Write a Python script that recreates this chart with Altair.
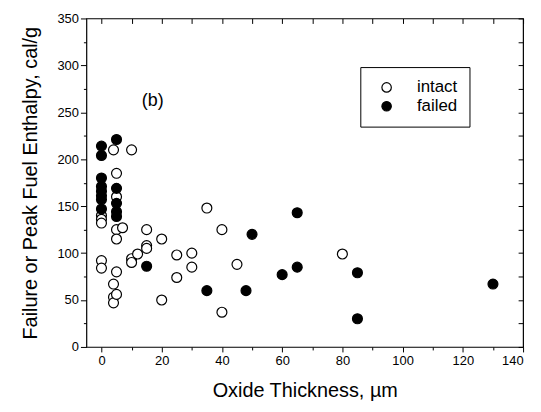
import altair as alt
import pandas as pd

# ---- data ----
intact_x = [0, 0, 0, 0, 0,
            4, 4, 4, 4,
            5, 5, 5, 5, 5, 5,
            7, 10, 10, 10, 12, 15, 15, 15,
            20, 20, 25, 25, 30, 30, 35, 40, 40, 45, 80]
intact_y = [140, 136, 132, 92, 84,
            210, 67, 53, 47,
            185, 160, 125, 115, 80, 56,
            127, 210, 94, 90, 99, 125, 108, 105,
            115, 50, 98, 74, 100, 85, 148, 125, 37, 88, 99]

failed_x = [0, 0, 0, 0, 0, 0, 0, 0,
            5, 5, 5, 5, 5,
            15, 35, 48, 50, 60, 65, 65, 85, 85, 130]
failed_y = [214, 204, 180, 171, 166, 161, 157, 147,
            221, 169, 153, 144, 139,
            86, 60, 60, 120, 77, 143, 85, 79, 30, 67]

status_order = ["intact", "failed"]
status_fill = ["white", "black"]

x_ticks = list(range(0, 141, 10))
y_ticks = list(range(0, 351, 25))
x_domain = [-5, 140]
y_domain = [0, 350]

panel_label = "(b)"
panel_label_x = 17
panel_label_y = 262

x_title = "Oxide Thickness, \u00b5m"
y_title = "Failure or Peak Fuel Enthalpy, cal/g"

FONT = "Liberation Sans"

df = pd.DataFrame({
    "x": intact_x + failed_x,
    "y": intact_y + failed_y,
    "status": ["intact"] * len(intact_x) + ["failed"] * len(failed_x),
})

xscale = alt.Scale(domain=x_domain, nice=False, zero=False)
yscale = alt.Scale(domain=y_domain, nice=False, zero=False)

base = alt.Chart(df)

points = base.mark_circle(size=100, stroke="black", strokeWidth=1.2, opacity=1).encode(
    x=alt.X("x:Q", scale=xscale, axis=alt.Axis(
        values=x_ticks, title=x_title, grid=False, domain=False,
        labelExpr="datum.value % 20 === 0 ? datum.label : ''",
        tickSize={"condition": {"test": "datum.value % 20 === 0", "value": 5}, "value": 3},
        tickColor="black", labelColor="black", labelFont=FONT, labelFontSize=13,
        labelPadding=3, titleFont=FONT, titleFontSize=20, titleFontWeight="normal",
        titleColor="black", titlePadding=13)),
    y=alt.Y("y:Q", scale=yscale, axis=alt.Axis(
        values=y_ticks, title=y_title, grid=False, domain=False,
        labelExpr="datum.value % 50 === 0 ? datum.label : ''",
        tickSize={"condition": {"test": "datum.value % 50 === 0", "value": 6}, "value": 3},
        tickColor="black", labelColor="black", labelFont=FONT, labelFontSize=13,
        labelPadding=2, titleFont=FONT, titleFontSize=20, titleFontWeight="normal",
        titleColor="black", titlePadding=17)),
    fill=alt.Fill("status:N", scale=alt.Scale(domain=status_order, range=status_fill),
                  legend=alt.Legend(
                      title=None, orient="none", legendX=276, legendY=49,
                      strokeColor="black", fillColor="white", padding=12,
                      symbolType="circle", symbolSize=90, symbolStrokeColor="black",
                      symbolStrokeWidth=1.2, labelFont=FONT, labelFontSize=17,
                      labelColor="black", labelOffset=22, rowPadding=1,
                      symbolOffset=6, labelLimit=200)),
)

frame = base.mark_circle(opacity=0).encode(
    x=alt.X("x:Q", scale=xscale, axis=alt.Axis(
        orient="top", values=x_ticks, labels=False, title=None, grid=False,
        domain=False, tickSize=5, offset=-5, tickColor="black")),
    y=alt.Y("y:Q", scale=yscale, axis=alt.Axis(
        orient="right", values=y_ticks, labels=False, title=None, grid=False,
        domain=False, tickSize=5, offset=-5, tickColor="black")),
)

label_df = pd.DataFrame({"x": [panel_label_x], "y": [panel_label_y], "t": [panel_label]})
label = alt.Chart(label_df).mark_text(font=FONT, fontSize=18, color="black").encode(
    x=alt.X("x:Q", scale=xscale, axis=None),
    y=alt.Y("y:Q", scale=yscale, axis=None),
    text="t:N",
)

chart = alt.layer(points, frame, label).resolve_axis(
    x="independent", y="independent"
).properties(
    width=440, height=331,
    autosize=alt.AutoSizeParams(type="none"),
    padding={"left": 79, "top": 9, "right": 10, "bottom": 62},
    background="white",
).configure_view(stroke="black", strokeWidth=1.2)

chart.save("out.html", embed_options={"renderer": "svg", "actions": False})
